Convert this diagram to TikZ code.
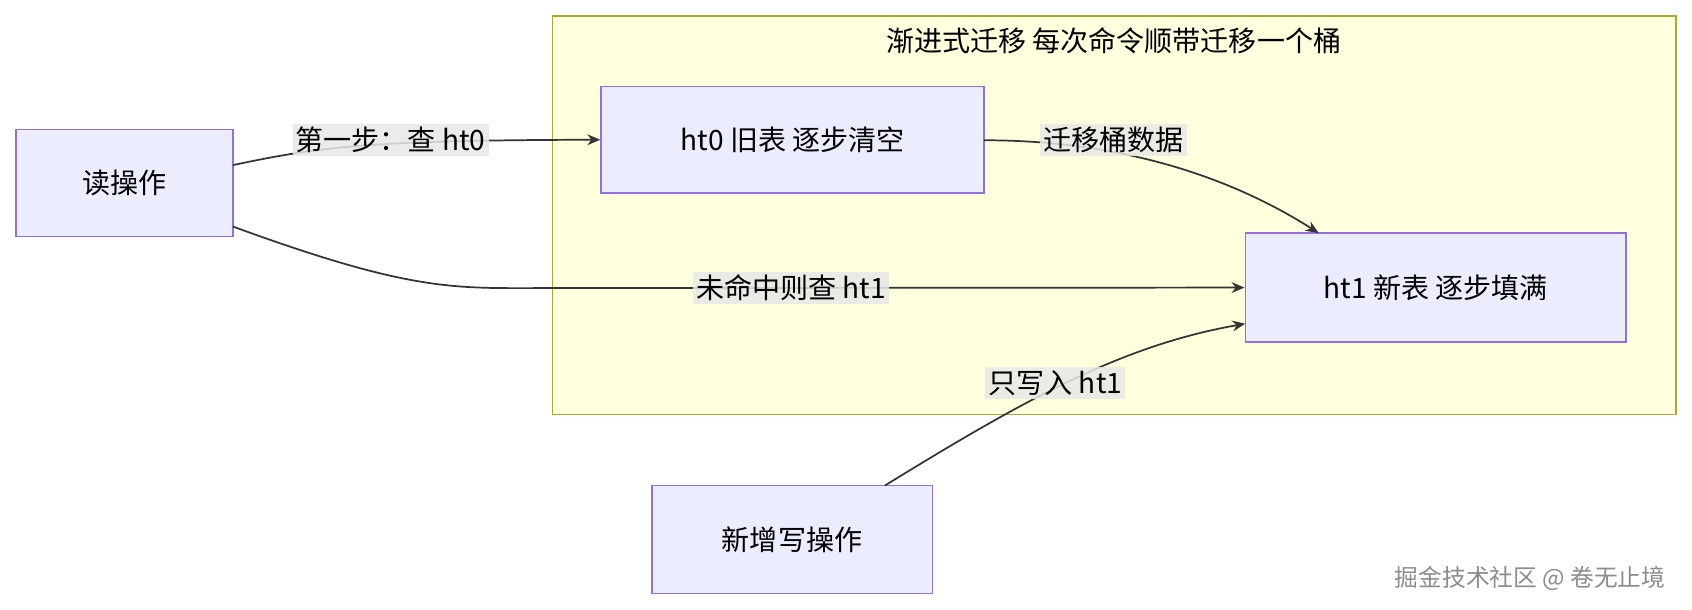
\documentclass[tikz,border=0pt]{standalone}
\usepackage{fontspec}
\setmainfont{Noto Sans CJK SC}
\usetikzlibrary{arrows.meta}
\definecolor{nfill}{HTML}{ECECFF}
\definecolor{nline}{HTML}{9370DB}
\definecolor{cfill}{HTML}{FFFFDE}
\definecolor{cline}{HTML}{AAAA33}
\definecolor{lbg}{HTML}{E8E8E8}
\begin{document}
\begin{tikzpicture}[x=0.5pt,y=-0.5pt,
  box/.style={draw=nline,fill=nfill,line width=0.7pt,inner sep=0pt,font=\fontsize{13}{15}\selectfont},
  lab/.style={fill=lbg,fill opacity=0.85,text opacity=1,inner sep=1.5pt,font=\fontsize{13}{15}\selectfont},
  edge/.style={draw=black!80,line width=0.8pt,-{Stealth[length=6pt,width=5pt]}}]
\useasboundingbox (0,0) rectangle (1568,565);
\node[draw=cline,fill=cfill,line width=0.7pt,minimum width=520.5pt,minimum height=184.5pt,inner sep=0pt] (cl) at (1032.5,199.5) {};
\node[font=\fontsize{13}{15}\selectfont] (title) at (1032,38) {渐进式迁移 每次命令顺带迁移一个桶};
\node[box,minimum width=100.5pt,minimum height=49.5pt] (read) at (115.5,169.5) {读操作};
\node[box,minimum width=177.5pt,minimum height=49.5pt] (ht0) at (734.5,129.5) {ht0 旧表 逐步清空};
\node[box,minimum width=176.5pt,minimum height=50.5pt] (ht1) at (1330.5,266.5) {ht1 新表 逐步填满};
\node[box,minimum width=130pt,minimum height=50pt] (nw) at (734,500) {新增写操作};
\coordinate (r1) at (216,153);
\coordinate (r2) at (216,210);
\coordinate (h0e) at (912,130);
\coordinate (h1t) at (1222,216);
\coordinate (h1w) at (1154,300);
\coordinate (nwt) at (820,450);
\draw[edge] (r1) .. controls (300,135) and (350,130) .. (ht0.west);
\draw[edge] (r2) .. controls (380,270) and (420,267) .. (500,267) -- (ht1.west);
\draw[edge] (h0e) .. controls (1050,130) and (1150,170) .. (h1t);
\draw[edge] (nwt) .. controls (950,370) and (1040,320) .. (h1w);
\node[lab] (l1) at (362,130) {第一步：查 ht0};
\node[lab] (l2) at (733,267) {未命中则查 ht1};
\node[lab] (l3) at (1032,130) {迁移桶数据};
\node[lab] (l4) at (978,355) {只写入 ht1};
\node[text=black!45,font=\fontsize{11}{13}\selectfont] (wm) at (1418,536) {掘金技术社区 @ 卷无止境};
\end{tikzpicture}
\end{document}
